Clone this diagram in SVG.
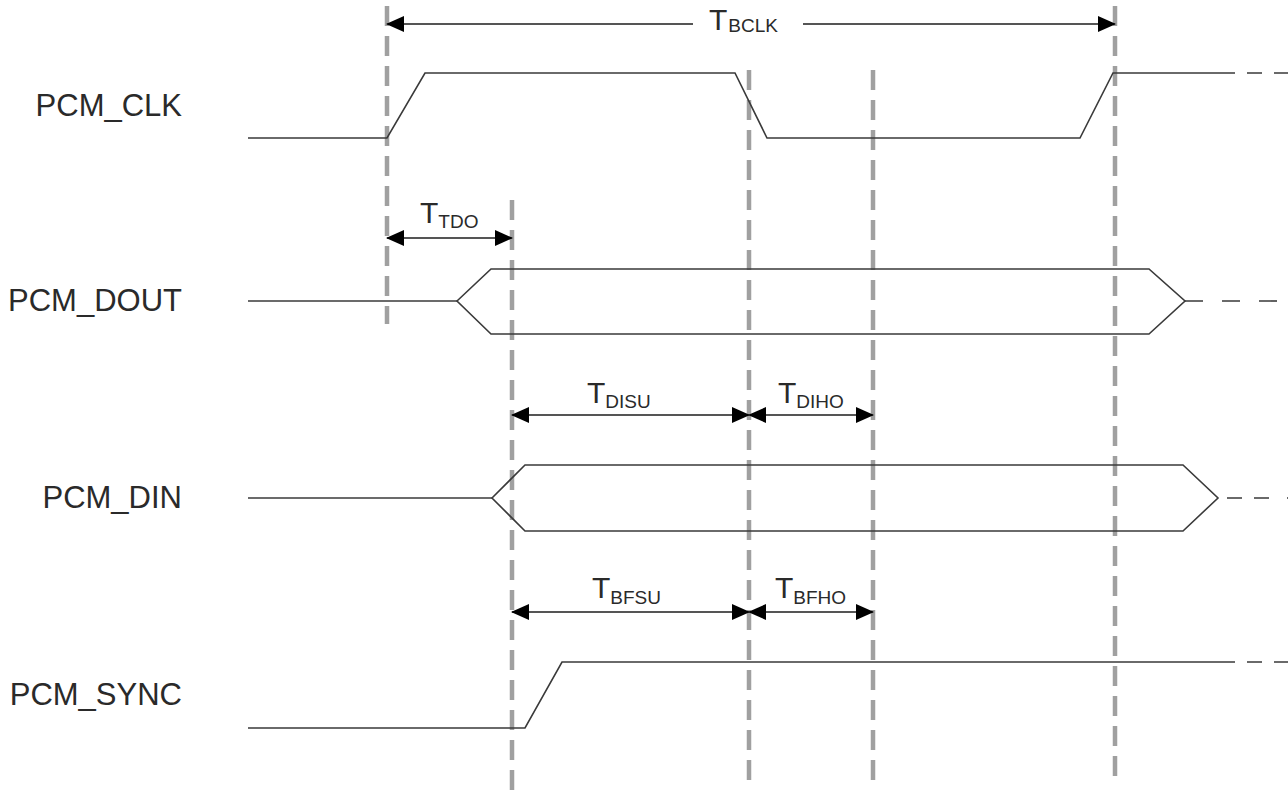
<svg xmlns="http://www.w3.org/2000/svg" width="1288" height="802" viewBox="0 0 1288 802">
<style>
.grid{stroke:#a0a0a0;stroke-width:4.5;stroke-dasharray:20 10;fill:none}
.sig{stroke:#3a3a3a;stroke-width:1.6;fill:none;stroke-linejoin:miter}
.ext{stroke:#555;stroke-width:2;fill:none}
.dim{stroke:#555;stroke-width:2;fill:none;marker-start:url(#ah);marker-end:url(#ah)}
.lbl{font-family:"Liberation Sans",Arial,sans-serif;font-size:31px;fill:#2a2a2a}
.t{font-family:"Liberation Sans",Arial,sans-serif;font-size:30px;fill:#2a2a2a}
.sub{font-size:19px}
</style>
<defs>
<marker id="ah" viewBox="0 0 18 16" refX="17" refY="8" markerWidth="18" markerHeight="16" markerUnits="userSpaceOnUse" orient="auto-start-reverse">
<path d="M0,0 L18,8 L0,16 z" fill="#000"/>
</marker>
<marker id="ahe" viewBox="0 0 18 16" refX="17" refY="8" markerWidth="18" markerHeight="16" markerUnits="userSpaceOnUse" orient="auto">
<path d="M0,0 L18,8 L0,16 z" fill="#000"/>
</marker>
</defs>
<rect width="1288" height="802" fill="#fff"/>
<g id="gridlines">
<line class="grid" x1="387" y1="6" x2="387" y2="324"/>
<line class="grid" x1="512" y1="200" x2="512" y2="800"/>
<line class="grid" x1="749" y1="70" x2="749" y2="780"/>
<line class="grid" x1="873" y1="70" x2="873" y2="780"/>
<line class="grid" x1="1115" y1="6" x2="1115" y2="780"/>
</g>
<g id="pcm_clk">
<text class="lbl" x="182" y="116" text-anchor="end">PCM_CLK</text>
<polyline class="sig" points="248,138 387,138 425,73 735,73 767,138 1080,138 1113,73 1235,73"/>
<line class="sig" x1="1235" y1="73" x2="1288" y2="73" stroke-dasharray="0 12 15 12 15"/>
</g>
<g id="pcm_dout">
<text class="lbl" x="182" y="311" text-anchor="end">PCM_DOUT</text>
<polyline class="sig" points="248,301 457,301"/>
<polygon class="sig" points="457,301 491,269 1149,269 1185,301 1149,334 491,334"/>
<line class="sig" x1="1185" y1="301" x2="1288" y2="301" stroke-dasharray="18 19"/>
</g>
<g id="pcm_din">
<text class="lbl" x="182" y="508" text-anchor="end">PCM_DIN</text>
<polyline class="sig" points="248,498 492,498"/>
<polygon class="sig" points="492,498 525,465 1183,465 1218,498 1183,531 525,531"/>
<line class="sig" x1="1218" y1="498" x2="1288" y2="498" stroke-dasharray="0 9 15 12 15 9"/>
</g>
<g id="pcm_sync">
<text class="lbl" x="182" y="705" text-anchor="end">PCM_SYNC</text>
<polyline class="sig" points="248,728 525,728 562,662 1235,662"/>
<line class="sig" x1="1235" y1="662" x2="1288" y2="662" stroke-dasharray="0 12 15 12 15"/>
</g>
<g id="connectors">
<line class="ext" x1="387" y1="24" x2="693" y2="24" marker-start="url(#ah)"/>
<line class="ext" x1="803" y1="24" x2="1115" y2="24" marker-end="url(#ahe)"/>
<line class="dim" x1="387" y1="238" x2="512" y2="238"/>
<line class="dim" x1="512" y1="415" x2="749" y2="415"/>
<line class="dim" x1="749" y1="415" x2="873" y2="415"/>
<line class="dim" x1="512" y1="612" x2="749" y2="612"/>
<line class="dim" x1="749" y1="612" x2="873" y2="612"/>
</g>
<g id="timing-labels">
<text class="t" x="709" y="30">T<tspan class="sub" dx="1" dy="2">BCLK</tspan></text>
<text class="t" x="420" y="223">T<tspan class="sub" dy="5">TDO</tspan></text>
<text class="t" x="587" y="403">T<tspan class="sub" dy="5">DISU</tspan></text>
<text class="t" x="778" y="403">T<tspan class="sub" dy="5">DIHO</tspan></text>
<text class="t" x="592" y="598">T<tspan class="sub" dy="6">BFSU</tspan></text>
<text class="t" x="775" y="598">T<tspan class="sub" dy="6">BFHO</tspan></text>
</g>
</svg>
